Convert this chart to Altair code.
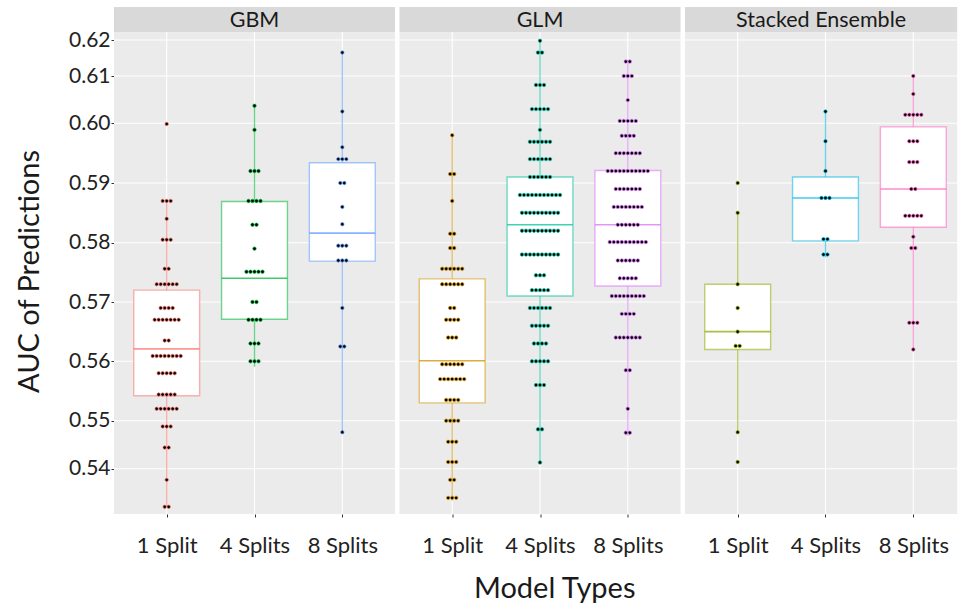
import altair as alt
import pandas as pd

models = ["GBM", "GLM", "Stacked Ensemble"]
splits = ["1 Split", "4 Splits", "8 Splits"]
palette = ["#F8766D", "#00BA38", "#619CFF",
           "#D39200", "#00C19F", "#DB72FB",
           "#93AA00", "#00B9E3", "#FF61C3"]

# ---- dot-plot bins (value of each stacked row, number of dots in it) ----
gbm_1_vals = [0.5999, 0.5870, 0.5840, 0.5805, 0.5756, 0.5730, 0.5690, 0.5670, 0.5635,
              0.5609, 0.5580, 0.5544, 0.5520, 0.5488, 0.5444, 0.5369, 0.5294]
gbm_1_counts = [1, 3, 1, 3, 2, 6, 4, 7, 2, 8, 5, 5, 6, 3, 2, 1, 2]

gbm_4_vals = [0.6037, 0.5989, 0.5920, 0.5870, 0.5830, 0.5790, 0.5751, 0.5700, 0.5670, 0.5630, 0.5600]
gbm_4_counts = [1, 1, 3, 4, 2, 1, 5, 2, 4, 3, 3]

gbm_8_vals = [0.6165, 0.6025, 0.5960, 0.5940, 0.5900, 0.5860, 0.5831, 0.5795, 0.5770, 0.5690, 0.5625, 0.5476]
gbm_8_counts = [1, 1, 1, 3, 2, 1, 1, 3, 3, 1, 2, 1]

glm_1_vals = [0.5980, 0.5915, 0.5870, 0.5815, 0.5791, 0.5756, 0.5730, 0.5690, 0.5670, 0.5640,
              0.5595, 0.5570, 0.5535, 0.5500, 0.5456, 0.5414, 0.5369, 0.5319]
glm_1_counts = [1, 2, 1, 2, 2, 6, 6, 2, 4, 3, 6, 7, 4, 4, 3, 3, 2, 3]

glm_4_vals = [0.6198, 0.6165, 0.6081, 0.6030, 0.5989, 0.5969, 0.5940, 0.5910, 0.5880, 0.5850, 0.5820,
              0.5780, 0.5745, 0.5720, 0.5690, 0.5660, 0.5630, 0.5600, 0.5560, 0.5482, 0.5413]
glm_4_counts = [1, 2, 3, 5, 1, 6, 6, 6, 11, 10, 10, 10, 3, 5, 6, 5, 4, 5, 3, 2, 1]

glm_8_vals = [0.6140, 0.6100, 0.6049, 0.6005, 0.5979, 0.5950, 0.5920, 0.5890, 0.5860, 0.5830,
              0.5801, 0.5770, 0.5740, 0.5710, 0.5680, 0.5640, 0.5585, 0.5520, 0.5475]
glm_8_counts = [2, 3, 1, 5, 4, 7, 11, 7, 8, 6, 10, 6, 5, 9, 4, 7, 2, 1, 2]

se_1_vals = [0.5900, 0.5850, 0.5730, 0.5690, 0.5650, 0.5626, 0.5476, 0.5414]
se_1_counts = [1, 1, 1, 1, 1, 2, 1, 1]

se_4_vals = [0.6025, 0.5970, 0.5920, 0.5875, 0.5806, 0.5780]
se_4_counts = [1, 1, 1, 3, 2, 2]

se_8_vals = [0.6100, 0.6062, 0.6018, 0.5970, 0.5935, 0.5890, 0.5845, 0.5810, 0.5791, 0.5665, 0.5620]
se_8_counts = [1, 1, 5, 3, 3, 2, 5, 1, 2, 3, 1]

# ---- box statistics (model-major order, splits within) ----
box_lower = [0.5294, 0.5591, 0.5476, 0.5312, 0.5413, 0.5468, 0.5476, 0.5775, 0.5620]
box_q1 = [0.5542, 0.5671, 0.5769, 0.5530, 0.5710, 0.5727, 0.5620, 0.5803, 0.5826]
box_median = [0.5621, 0.5740, 0.5816, 0.5601, 0.5830, 0.5830, 0.5650, 0.5875, 0.5890]
box_q3 = [0.5720, 0.5869, 0.5934, 0.5739, 0.5910, 0.5921, 0.5730, 0.5910, 0.5994]
box_upper = [0.5870, 0.6037, 0.6165, 0.5980, 0.6198, 0.6145, 0.5850, 0.6025, 0.6100]

y_ticks = [0.54, 0.55, 0.56, 0.57, 0.58, 0.59, 0.60, 0.61, 0.62]

# ---- tables ----
dot_groups = [
    (gbm_1_vals, gbm_1_counts), (gbm_4_vals, gbm_4_counts), (gbm_8_vals, gbm_8_counts),
    (glm_1_vals, glm_1_counts), (glm_4_vals, glm_4_counts), (glm_8_vals, glm_8_counts),
    (se_1_vals, se_1_counts), (se_4_vals, se_4_counts), (se_8_vals, se_8_counts),
]
rows = []
for gi, (vals, cnts) in enumerate(dot_groups):
    m = models[gi // 3]
    s = splits[gi % 3]
    for v, c in zip(vals, cnts):
        for _ in range(c):
            rows.append({"model": m, "split": s, "pos": gi % 3 + 1, "auc": v, "color": palette[gi]})
dots_df = pd.DataFrame(rows)

box_df = pd.DataFrame({
    "model": [m for m in models for _ in splits],
    "split": splits * 3,
    "pos": [1, 2, 3] * 3,
    "lower": box_lower, "q1": box_q1, "median": box_median,
    "q3": box_q3, "upper": box_upper, "color": palette,
})

# ---- layout constants ----
STRIP_H = 25
PANEL_H = 507
DOT_STEP = 0.0456
BOX_HALF = 0.375
FONT = "Lato"
y_domain = [0.5274, 0.53, 0.54, 0.55, 0.56, 0.57, 0.58, 0.59, 0.60, 0.61, 0.62, 0.6222]
y_range = [507, 497.7, 461.7, 413.7, 354.3, 295, 235.7, 176, 116.3, 69, 33, 25]

label_expr = "[" + ",".join("'" + s + "'" for s in splits) + "][datum.value - 1]"


def make_panel(i, width, xmax):
    model = models[i]
    ysc = alt.Scale(domain=y_domain, range=y_range, nice=False, zero=False)
    xsc = alt.Scale(domain=[0.4, xmax], nice=False, zero=False)
    if i == 0:
        yax = alt.Axis(values=y_ticks, format=".2f", title="AUC of Predictions",
                       titleFontSize=29, titleFont=FONT, titleFontWeight="normal",
                       titleColor="#1A1A1A", titleAngle=-90, titleX=-85, titleY=264,
                       titleAlign="center", titleBaseline="middle",
                       labelFont=FONT, labelFontSize=21, labelColor="#222222",
                       labelPadding=1, tickSize=3, tickColor="#333333",
                       domain=False, grid=False)
    else:
        yax = None
    xkw = dict(values=[1, 2, 3], labelExpr=label_expr, labelFont=FONT, labelFontSize=22,
               labelColor="#222222", labelBaseline="alphabetic", labelPadding=35,
               tickSize=3, tickColor="#333333", domain=False, grid=False)
    if i == 1:
        xax = alt.Axis(title="Model Types", titleFont=FONT, titleFontSize=29,
                       titleFontWeight="normal", titleColor="#1A1A1A",
                       titleX=154.7, titleY=83, titleAlign="center",
                       titleBaseline="alphabetic", **xkw)
    else:
        xax = alt.Axis(title=None, **xkw)

    one = pd.DataFrame({"model": [model]})
    bg = alt.Chart(one).mark_rect(fill="#EBEBEB").encode(
        x=alt.value(0), x2=alt.value(width), y=alt.value(STRIP_H), y2=alt.value(PANEL_H))
    strip = alt.Chart(one).mark_rect(fill="#D9D9D9").encode(
        x=alt.value(0), x2=alt.value(width), y=alt.value(0), y2=alt.value(STRIP_H))
    strip_text = alt.Chart(one).mark_text(font=FONT, fontSize=21.5, color="#1A1A1A",
                                          baseline="alphabetic", align="center").encode(
        x=alt.value(width / 2), y=alt.value(19.5), text="model:N")

    hgrid = alt.Chart(pd.DataFrame({"tick": y_ticks})).mark_rule(
        color="white", strokeWidth=1.1).encode(
        y=alt.Y("tick:Q", scale=ysc, axis=yax), x=alt.value(0), x2=alt.value(width))
    vgrid = alt.Chart(pd.DataFrame({"pos": [1, 2, 3]})).mark_rule(
        color="white", strokeWidth=1.1).encode(
        x=alt.X("pos:Q", scale=xsc, axis=xax), y=alt.value(STRIP_H), y2=alt.value(PANEL_H))

    bdf = box_df[box_df["model"] == model]
    whisk = alt.Chart(bdf).mark_rule(strokeWidth=1.3, opacity=0.6).encode(
        x=alt.X("pos:Q", scale=xsc, axis=xax),
        y=alt.Y("lower:Q", scale=ysc, axis=yax), y2="upper:Q",
        color=alt.Color("color:N", scale=None))
    box = alt.Chart(bdf).transform_calculate(
        xl=f"datum.pos - {BOX_HALF}", xr=f"datum.pos + {BOX_HALF}").mark_rect(
        fill="white", strokeWidth=1.4, strokeOpacity=0.55).encode(
        x=alt.X("xl:Q", scale=xsc, axis=xax), x2="xr:Q",
        y=alt.Y("q1:Q", scale=ysc, axis=yax), y2="q3:Q",
        stroke=alt.Stroke("color:N", scale=None))
    med = alt.Chart(bdf).transform_calculate(
        xl=f"datum.pos - {BOX_HALF}", xr=f"datum.pos + {BOX_HALF}").mark_rule(
        strokeWidth=1.6, opacity=0.75).encode(
        x=alt.X("xl:Q", scale=xsc, axis=xax), x2="xr:Q",
        y=alt.Y("median:Q", scale=ysc, axis=yax),
        color=alt.Color("color:N", scale=None))

    ddf = dots_df[dots_df["model"] == model]
    dots = alt.Chart(ddf).transform_window(
        idx="row_number()", groupby=["split", "auc"]).transform_joinaggregate(
        n="count()", groupby=["split", "auc"]).transform_calculate(
        xpos=f"datum.pos + (datum.idx - 1 - (datum.n - 1) / 2) * {DOT_STEP}").mark_circle(
        size=12, opacity=1, fill="black", strokeWidth=0.7).encode(
        x=alt.X("xpos:Q", scale=xsc, axis=xax),
        y=alt.Y("auc:Q", scale=ysc, axis=yax),
        stroke=alt.Stroke("color:N", scale=None))

    return alt.layer(bg, hgrid, vgrid, whisk, box, med, dots, strip, strip_text).properties(
        width=width, height=PANEL_H)


p1 = make_panel(0, 281, 3.6)
p2 = make_panel(1, 281, 3.6)
p3 = make_panel(2, 272.2, 3.5)

chart = alt.hconcat(p1, p2, p3, spacing=4.5, bounds="flush").properties(
    padding={"left": 15, "top": 7, "right": 0, "bottom": 0},
    background="white",
).configure_view(strokeWidth=0)

chart.save("out.html", embed_options={"renderer": "svg", "actions": False})
